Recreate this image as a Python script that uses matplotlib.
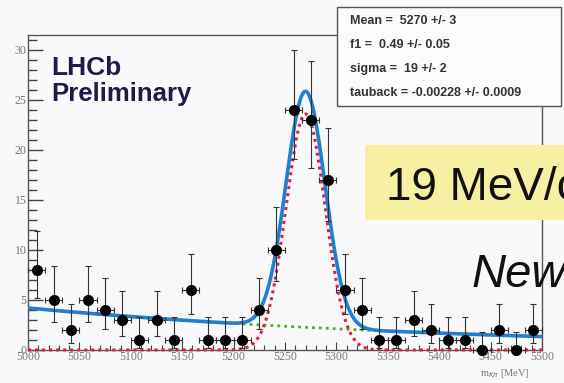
import math
import numpy as np
import matplotlib
matplotlib.use("Agg")
import matplotlib.pyplot as plt
from matplotlib.patches import Rectangle
from matplotlib.ticker import MultipleLocator

# Bin centres (MeV) and counts
bin_width = 500 / 30
bin_centres = [5000 + bin_width * (k + 0.5) for k in range(30)]
counts = [8, 5, 2, 5, 4, 3, 1, 3, 1, 6, 1, 1, 1, 4, 10,
          24, 23, 17, 6, 4, 1, 1, 3, 2, 1, 1, 0, 2, 0, 2]

# Fit parameters shown in the stat box
mean = 5270
sigma = 19
tauback = -0.00228
bg_at_5000 = 4.2
sig_peak = 23.6
stat_lines = ["Mean =  5270 +/- 3",
              "f1 =  0.49 +/- 0.05",
              "sigma =  19 +/- 2",
              "tauback = -0.00228 +/- 0.0009"]


def poisson_cdf(n, mu):
    s, term = 0.0, math.exp(-mu)
    for k in range(n + 1):
        s += term
        term *= mu / (k + 1)
    return s


def garwood(n, alpha=0.1587):
    # upper: P(X<=n; U) = alpha, lower: P(X>=n; L) = alpha
    lo_a, hi_a = n, n + 10 * math.sqrt(n + 1) + 5
    for _ in range(60):
        mid = 0.5 * (lo_a + hi_a)
        if poisson_cdf(n, mid) > alpha:
            lo_a = mid
        else:
            hi_a = mid
    up = lo_a
    if n == 0:
        return 0.0, up
    lo_b, hi_b = 0.0, n
    for _ in range(60):
        mid = 0.5 * (lo_b + hi_b)
        if 1 - poisson_cdf(n - 1, mid) < alpha:
            lo_b = mid
        else:
            hi_b = mid
    return lo_b, up


err_lo, err_hi = [], []
for n in counts:
    lo, up = garwood(n)
    err_lo.append(n - lo)
    err_hi.append(up - n)

W, H = 564, 383
fig = plt.figure(figsize=(W / 100, H / 100), dpi=100, facecolor="#f9f9fb")
ax = fig.add_axes([28 / W, 1 - 350 / H, (542 - 28) / W, (350 - 35) / H])
ax.set_facecolor("#f9f9fb")

x = np.linspace(5000, 5500, 1200)
bg = bg_at_5000 * np.exp(tauback * (x - 5000))
sig = sig_peak * np.exp(-0.5 * ((x - mean) / sigma) ** 2)

ax.plot(x, bg, color="#4caf2a", lw=2.0, ls=(0, (1, 1.5)), zorder=2)
ax.plot(x, sig, color="#e0203a", lw=2.2, ls=(0, (1, 1.3)), zorder=3, clip_on=False)
ax.plot(x, bg + sig, color="#1f7fd0", lw=2.6, zorder=4)

ax.errorbar(bin_centres, counts, yerr=[err_lo, err_hi], xerr=bin_width / 2,
            fmt="o", color="black", ms=7, ecolor="#333333", elinewidth=0.8,
            capsize=2, capthick=0.8, zorder=5, clip_on=False)

ax.set_xlim(5000, 5500)
ax.set_ylim(0, 31.5)
ax.xaxis.set_major_locator(MultipleLocator(50))
ax.xaxis.set_minor_locator(MultipleLocator(10))
ax.yaxis.set_major_locator(MultipleLocator(5))
ax.yaxis.set_minor_locator(MultipleLocator(1))
ax.tick_params(axis="both", which="both", direction="in", colors="#444444",
               labelcolor="#777777", labelsize=8.5, pad=1)
ax.tick_params(axis="y", which="major", length=11, width=1.0)
ax.tick_params(axis="y", which="minor", length=6.5, width=1.0)
ax.tick_params(axis="x", which="major", length=6, width=0.8)
ax.tick_params(axis="x", which="minor", length=3.5, width=0.8)
for lab in ax.get_xticklabels() + ax.get_yticklabels():
    lab.set_family("Liberation Serif")
for s in ax.spines.values():
    s.set_color("#555555")
    s.set_linewidth(1.0)

fig.text(480 / W, 1 - 376 / H, r"m$_{K\pi}$ [MeV]", fontsize=7.5,
         color="#777777", family="Liberation Serif")

fig.text(51 / W, 1 - 75 / H, "LHCb", fontsize=19, fontweight="bold",
         color="#1c1c44", family="Liberation Sans")
fig.text(51 / W, 1 - 101 / H, "Preliminary", fontsize=18.5, fontweight="bold",
         color="#1c1c44", family="Liberation Sans")

# stat box
fig.add_artist(Rectangle((337 / W, 1 - 106 / H), (561 - 337) / W, (106 - 7) / H,
                         transform=fig.transFigure, facecolor="#fbfbfd",
                         edgecolor="#555555", lw=1.0, zorder=6))
for i, line in enumerate(stat_lines):
    fig.text(350 / W, 1 - (24 + 24 * i) / H, line, fontsize=9,
             fontweight="bold", color="#333333", family="Liberation Sans",
             zorder=7)

# slide overlays
fig.add_artist(Rectangle((365 / W, 1 - 220 / H), 210 / W, 75 / H,
                         transform=fig.transFigure, facecolor="#f7efa2",
                         edgecolor="none", zorder=6))
fig.text(386 / W, 1 - 200 / H, "19 MeV/c", fontsize=33, color="#111111",
         family="Liberation Sans", zorder=7)
fig.text(472 / W, 1 - 287 / H, "New", fontsize=34, style="italic",
         color="#111111", family="Liberation Sans", zorder=7)

fig.savefig("out.png", dpi=100, facecolor=fig.get_facecolor())
